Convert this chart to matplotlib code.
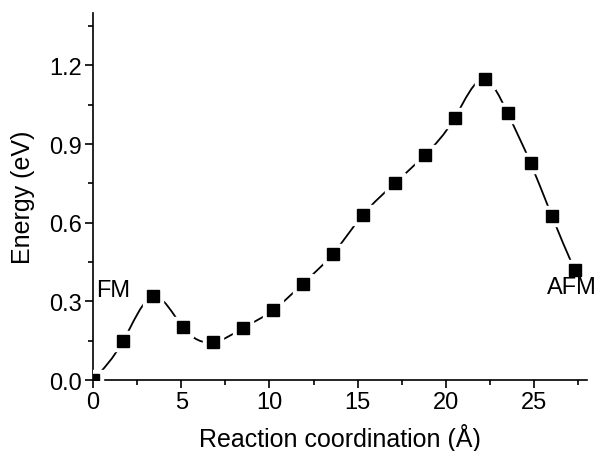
import numpy as np
import matplotlib
matplotlib.use('Agg')
import matplotlib.pyplot as plt
from matplotlib.path import Path
from matplotlib.patches import PathPatch
from matplotlib.ticker import MultipleLocator, FormatStrFormatter

plt.rcParams['font.family'] = ['Liberation Sans', 'DejaVu Sans']

# reaction coordinate (A) and energy (eV)
coord = [0.0, 1.7, 3.4, 5.1, 6.8, 8.5, 10.2, 11.9, 13.6, 15.3, 17.1,
         18.8, 20.5, 22.2, 23.5, 24.8, 26.0, 27.3]
energy = [0.0, 0.148, 0.319, 0.201, 0.144, 0.198, 0.266, 0.368, 0.482,
          0.63, 0.75, 0.858, 1.0, 1.147, 1.018, 0.828, 0.627, 0.42]
labels = ['FM', 'AFM']


def spline_path(x, y):
    """
    Natural cubic spline through the points, drawn as bezier segments.
    """
    x = np.asarray(x, float)
    y = np.asarray(y, float)
    n = len(x)
    h = np.diff(x)
    # solve for the second derivatives (natural ends)
    A = np.zeros((n, n))
    b = np.zeros(n)
    A[0, 0] = A[-1, -1] = 1.0
    for i in range(1, n - 1):
        A[i, i - 1] = h[i - 1]
        A[i, i] = 2 * (h[i - 1] + h[i])
        A[i, i + 1] = h[i]
        b[i] = 6 * ((y[i + 1] - y[i]) / h[i] - (y[i] - y[i - 1]) / h[i - 1])
    M = np.linalg.solve(A, b)
    # slopes at each knot
    d = np.empty(n)
    d[:-1] = (y[1:] - y[:-1]) / h - h * (2 * M[:-1] + M[1:]) / 6
    d[-1] = (y[-1] - y[-2]) / h[-1] + h[-1] * (M[-2] + 2 * M[-1]) / 6
    verts = [(x[0], y[0])]
    codes = [Path.MOVETO]
    for i in range(n - 1):
        verts += [(x[i] + h[i] / 3, y[i] + d[i] * h[i] / 3),
                  (x[i + 1] - h[i] / 3, y[i + 1] - d[i + 1] * h[i] / 3),
                  (x[i + 1], y[i + 1])]
        codes += [Path.CURVE4] * 3
    return Path(verts, codes)


fig = plt.figure(figsize=(6.02, 4.52), dpi=100)
ax = fig.add_axes([0.1545, 0.157, 0.8206, 0.812])

# smooth line, with gaps cut around the markers
ax.add_patch(PathPatch(spline_path(coord, energy), facecolor='none',
                       edgecolor='black', lw=1.3, zorder=2))
ax.plot(coord, energy, 's', color='white', ms=15, zorder=3)
ax.plot(coord, energy, 's', color='black', ms=9, zorder=4)

ax.text(0.2, 0.345, labels[0], fontsize=17, va='center', ha='left')
ax.text(25.75, 0.353, labels[1], fontsize=17, va='center', ha='left')

ax.set_xlim(0, 28)
ax.set_ylim(0, 1.4)
ax.xaxis.set_major_locator(MultipleLocator(5))
ax.xaxis.set_minor_locator(MultipleLocator(2.5))
ax.yaxis.set_major_locator(MultipleLocator(0.3))
ax.yaxis.set_minor_locator(MultipleLocator(0.15))
ax.yaxis.set_major_formatter(FormatStrFormatter('%.1f'))

for side in ['top', 'right']:
    ax.spines[side].set_visible(False)
for side in ['left', 'bottom']:
    ax.spines[side].set_linewidth(1.2)
ax.tick_params(which='major', length=6, width=1.2, labelsize=17, pad=2)
ax.tick_params(which='minor', length=3.5, width=1.2)

ax.set_xlabel('Reaction coordination (Å)', fontsize=18, labelpad=7)
ax.set_ylabel('Energy (eV)', fontsize=18, labelpad=10)

fig.savefig('out.png', dpi=100)
